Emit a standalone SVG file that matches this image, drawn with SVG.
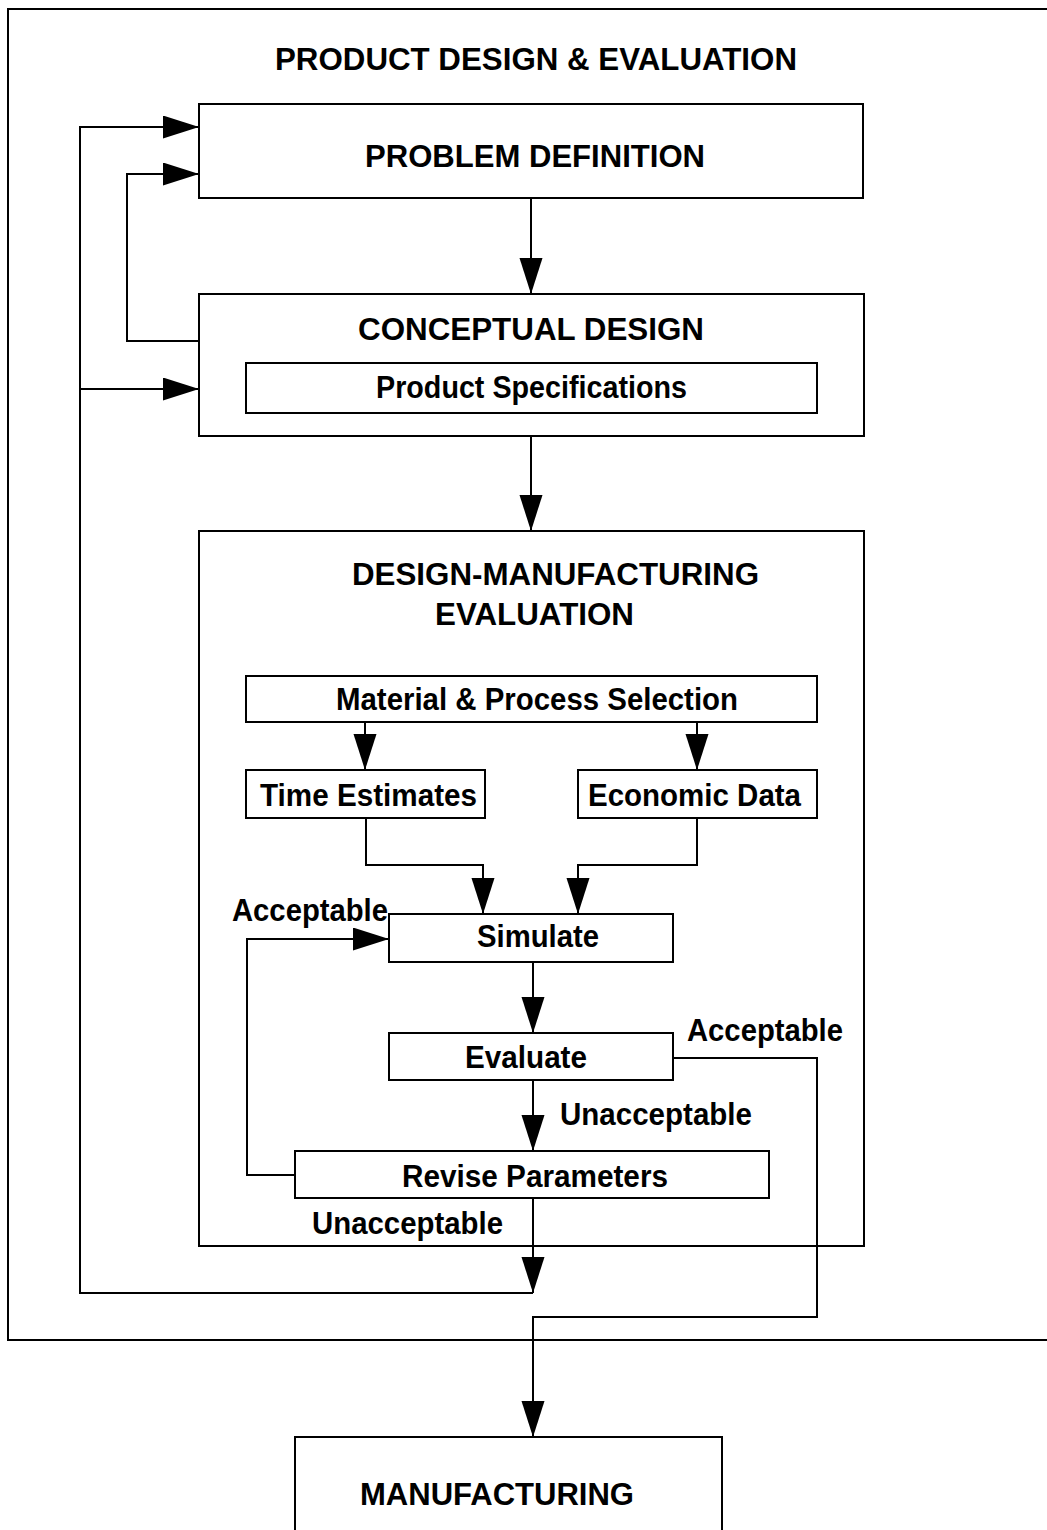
<svg xmlns="http://www.w3.org/2000/svg" width="1047" height="1530" viewBox="0 0 1047 1530">
<style>
.box{fill:#fff;stroke:#000;stroke-width:2}
.frame{fill:none;stroke:#000;stroke-width:2}
.ln{fill:none;stroke:#000;stroke-width:2}
.t{font-family:"Liberation Sans",Arial,Helvetica,sans-serif;font-weight:bold;fill:#000;font-size:31px}
.s{font-size:31px}
</style>
<defs>
<marker id="ah" markerUnits="userSpaceOnUse" markerWidth="36" markerHeight="24" refX="36" refY="11.5" orient="auto">
<path d="M0,0 L36,11.5 L0,23 z" fill="#000"/>
</marker>
</defs>
<rect width="1047" height="1530" fill="#fff"/>
<g id="frame">
<path class="frame" d="M1049,9 H8 V1340 H1049"/>
<text class="t" x="275" y="70" textLength="522" lengthAdjust="spacingAndGlyphs">PRODUCT DESIGN &amp; EVALUATION</text>
</g>
<g id="problem-definition">
<rect class="box" x="199" y="104" width="664" height="94"/>
<text class="t" x="365" y="167" textLength="340" lengthAdjust="spacingAndGlyphs">PROBLEM DEFINITION</text>
</g>
<g id="conceptual-design">
<rect class="box" x="199" y="294" width="665" height="142"/>
<text class="t" x="358" y="340" textLength="346" lengthAdjust="spacingAndGlyphs">CONCEPTUAL DESIGN</text>
</g>
<g id="product-specifications">
<rect class="box" x="246" y="363" width="571" height="50"/>
<text class="t s" x="376" y="398" textLength="311" lengthAdjust="spacingAndGlyphs">Product Specifications</text>
</g>
<g id="design-manufacturing-evaluation">
<rect class="box" x="199" y="531" width="665" height="715"/>
<text class="t" x="352" y="585" textLength="407" lengthAdjust="spacingAndGlyphs">DESIGN-MANUFACTURING</text>
<text class="t" x="435" y="625" textLength="199" lengthAdjust="spacingAndGlyphs">EVALUATION</text>
</g>
<g id="material-process-selection">
<rect class="box" x="246" y="676" width="571" height="46"/>
<text class="t s" x="336" y="710" textLength="402" lengthAdjust="spacingAndGlyphs">Material &amp; Process Selection</text>
</g>
<g id="time-estimates">
<rect class="box" x="246" y="770" width="239" height="48"/>
<text class="t s" x="260" y="806" textLength="217" lengthAdjust="spacingAndGlyphs">Time Estimates</text>
</g>
<g id="economic-data">
<rect class="box" x="578" y="770" width="239" height="48"/>
<text class="t s" x="588" y="806" textLength="213" lengthAdjust="spacingAndGlyphs">Economic Data</text>
</g>
<g id="simulate">
<rect class="box" x="389" y="914" width="284" height="48"/>
<text class="t s" x="477" y="947" textLength="122" lengthAdjust="spacingAndGlyphs">Simulate</text>
</g>
<g id="evaluate">
<rect class="box" x="389" y="1033" width="284" height="47"/>
<text class="t s" x="465" y="1068" textLength="122" lengthAdjust="spacingAndGlyphs">Evaluate</text>
</g>
<g id="revise-parameters">
<rect class="box" x="295" y="1151" width="474" height="47"/>
<text class="t s" x="402" y="1187" textLength="266" lengthAdjust="spacingAndGlyphs">Revise Parameters</text>
</g>
<g id="manufacturing">
<path class="box" d="M295,1535 V1437 H722 V1535"/>
<text class="t" x="360" y="1505" textLength="274" lengthAdjust="spacingAndGlyphs">MANUFACTURING</text>
</g>
<g id="connectors">
<path class="ln" d="M531,198 V294" marker-end="url(#ah)"/>
<path class="ln" d="M531,436 V531" marker-end="url(#ah)"/>
<path class="ln" d="M199,341 H127 V174 H199" marker-end="url(#ah)"/>
<path class="ln" d="M533,1293 H80 V127 H199" marker-end="url(#ah)"/>
<path class="ln" d="M80,389 H199" marker-end="url(#ah)"/>
<path class="ln" d="M365,722 V770" marker-end="url(#ah)"/>
<path class="ln" d="M697,722 V770" marker-end="url(#ah)"/>
<path class="ln" d="M366,818 V865 H483 V914" marker-end="url(#ah)"/>
<path class="ln" d="M697,818 V865 H578 V914" marker-end="url(#ah)"/>
<path class="ln" d="M295,1175 H247 V939 H389" marker-end="url(#ah)"/>
<path class="ln" d="M533,962 V1033" marker-end="url(#ah)"/>
<path class="ln" d="M533,1080 V1151" marker-end="url(#ah)"/>
<path class="ln" d="M533,1198 V1293" marker-end="url(#ah)"/>
<path class="ln" d="M673,1058 H817 V1317 H533 V1437" marker-end="url(#ah)"/>
<text class="t s" x="232" y="921" textLength="156" lengthAdjust="spacingAndGlyphs">Acceptable</text>
<text class="t s" x="687" y="1041" textLength="156" lengthAdjust="spacingAndGlyphs">Acceptable</text>
<text class="t s" x="560" y="1125" textLength="192" lengthAdjust="spacingAndGlyphs">Unacceptable</text>
<text class="t s" x="312" y="1234" textLength="191" lengthAdjust="spacingAndGlyphs">Unacceptable</text>
</g>
</svg>
